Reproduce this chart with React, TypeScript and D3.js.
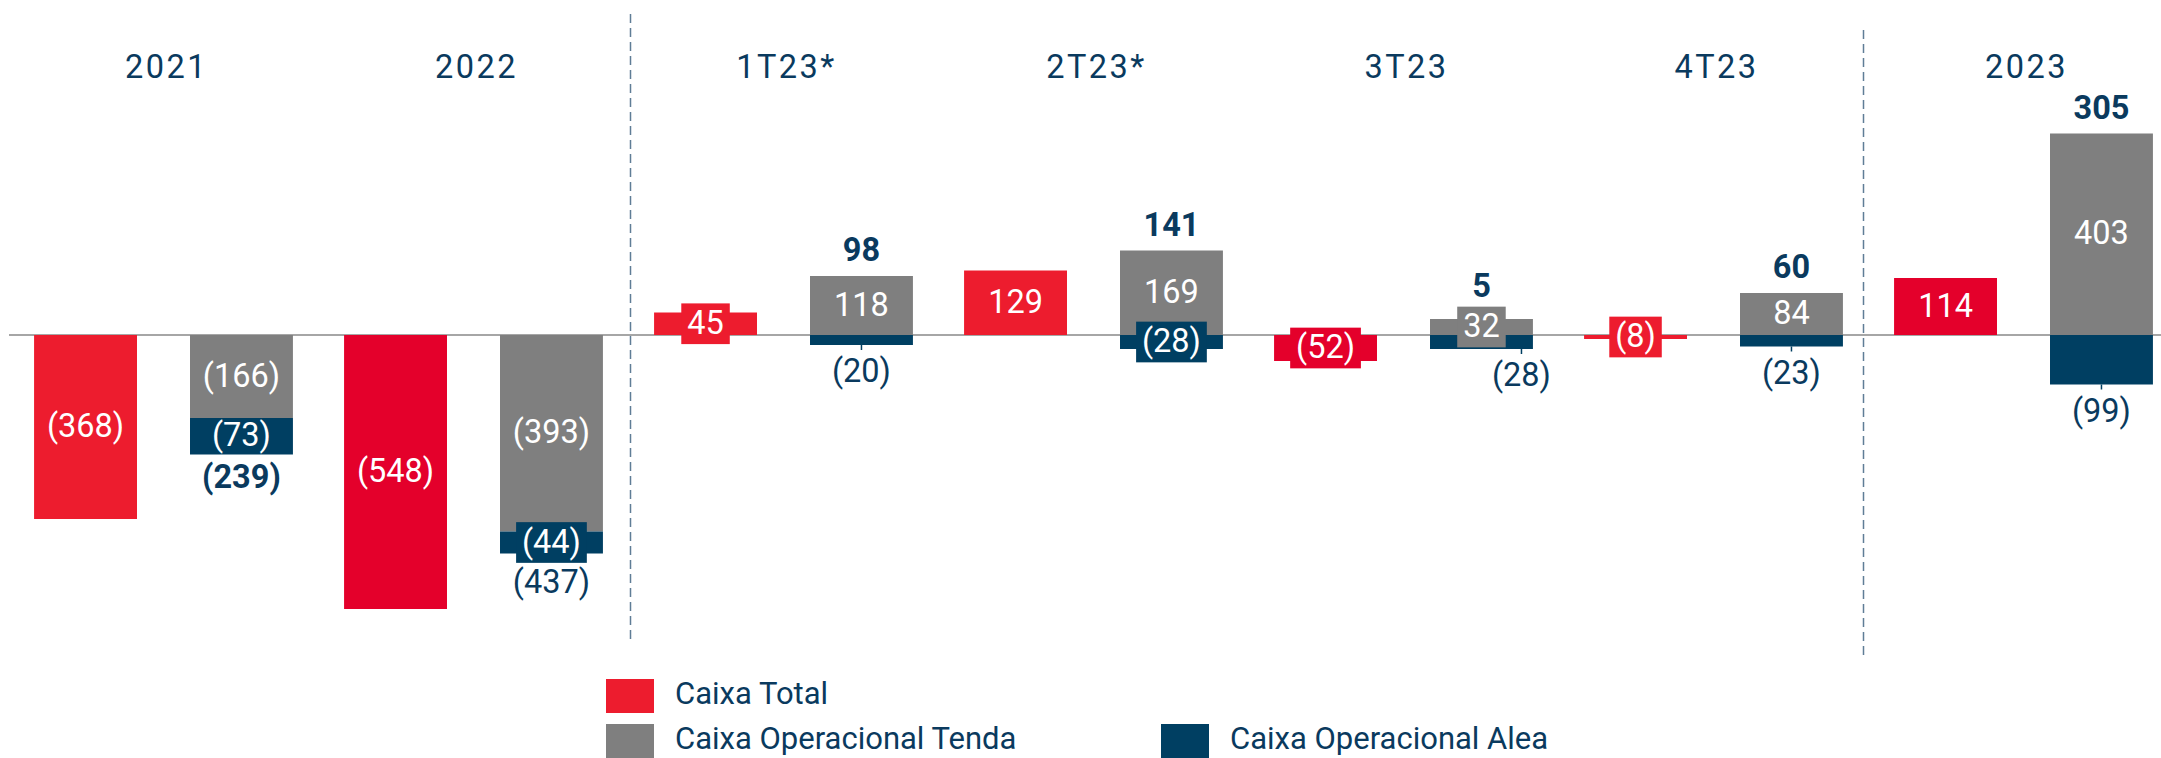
import React from "react";
import * as d3 from "d3";

// ---- data ----
const categories = ["2021", "2022", "1T23*", "2T23*", "3T23", "4T23", "2023"];
const caixaTotal = [-368, -548, 45, 129, -52, -8, 114];
const caixaTenda = [-166, -393, 118, 169, 32, 84, 403];
const caixaAlea = [-73, -44, -20, -28, -28, -23, -99];
const opTotalLabels = [-239, -437, 98, 141, 5, 60, 305];
const legendItems = ["Caixa Total", "Caixa Operacional Tenda", "Caixa Operacional Alea"];

// ---- presentation config ----
const opTotalBold = [true, false, true, true, true, true, true];
const aleaPlacement = ["inside", "inside", "below", "inside", "belowRight", "below", "below"];
const totalShade = ["#ED1C2E", "#E4002B", "#ED1C2E", "#ED1C2E", "#E4002B", "#ED1C2E", "#E4002B"];
const dividerAfter = [1, 5];
const dividerNudge = [2, -5];
const dividerSpan = [
  [14, 641],
  [30, 655],
];

const W = 2161;
const H = 758;
const GRAY = "#7F7F7F";
const NAVY = "#003F62";
const TEXT_NAVY = "#0A3A5E";
const FONT = "Roboto, 'Open Sans', sans-serif";
const FS = 32.5;
const BOX_H = 40.7;

const fmt = (v: number) => (v < 0 ? `(${-v})` : `${v}`);
const textW = (s: string, size: number) => {
  let w = 0;
  for (const c of s) w += c === "(" || c === ")" ? 0.342 : 0.5615;
  return w * size;
};

export default function App() {
  const y = d3.scaleLinear().domain([-600, 670]).range([635, 0]);
  const x0 = d3.scaleBand<string>().domain(categories).range([8.5, 2178.5]).padding(0);
  const x1 = d3
    .scaleBand<string>()
    .domain(["total", "op"])
    .range([0, x0.bandwidth()])
    .paddingInner(0.34)
    .paddingOuter(0.164);
  const bw = x1.bandwidth();

  const rows = categories.map((c, i) => ({ cat: c, tenda: caixaTenda[i], alea: caixaAlea[i] }));
  const stack = d3.stack<any>().keys(["tenda", "alea"]).offset(d3.stackOffsetDiverging)(rows);
  const tendaSeg = stack[0];
  const aleaSeg = stack[1];

  const bars: any[] = [];
  const labels: any[] = [];
  const extras: any[] = [];

  categories.forEach((c, i) => {
    const xr = (x0(c) as number) + (x1("total") as number);
    const xg = (x0(c) as number) + (x1("op") as number);
    // total bar
    const tv = caixaTotal[i];
    const ty0 = y(Math.max(0, tv));
    const ty1 = y(Math.min(0, tv));
    bars.push(<rect key={`t${i}`} x={xr} y={ty0} width={bw} height={ty1 - ty0} fill={totalShade[i]} />);
    labels.push({ x: xr + bw / 2, cy: (ty0 + ty1) / 2, h: ty1 - ty0, s: fmt(tv), fill: totalShade[i], key: `tl${i}` });

    // tenda
    const [ta, tb] = tendaSeg[i];
    const gy0 = y(Math.max(ta, tb));
    const gy1 = y(Math.min(ta, tb));
    bars.push(<rect key={`g${i}`} x={xg} y={gy0} width={bw} height={gy1 - gy0} fill={GRAY} />);
    const gcy = (gy0 + gy1) / 2;
    labels.push({ x: xg + bw / 2, cy: gcy, h: gy1 - gy0, s: fmt(caixaTenda[i]), fill: GRAY, key: `gl${i}` });

    // alea
    const [aa, ab] = aleaSeg[i];
    const ay0 = y(Math.max(aa, ab));
    const ay1 = y(Math.min(aa, ab));
    bars.push(<rect key={`a${i}`} x={xg} y={ay0} width={bw} height={ay1 - ay0} fill={NAVY} />);
    const acy = (ay0 + ay1) / 2;
    const pl = aleaPlacement[i];
    let aleaBoxBottom = ay1;
    if (pl === "inside") {
      labels.push({ x: xg + bw / 2, cy: acy, h: ay1 - ay0, s: fmt(caixaAlea[i]), fill: NAVY, key: `al${i}` });
      aleaBoxBottom = Math.max(ay1, acy + BOX_H / 2);
    } else {
      const lx = xg + bw / 2 + (pl === "belowRight" ? 40 : 0);
      extras.push(
        <line key={`at${i}`} x1={lx} x2={lx} y1={ay1} y2={ay1 + 5} stroke={NAVY} strokeWidth={1.5} />,
        <text key={`ax${i}`} x={lx} y={ay1 + 37} textAnchor="middle" fontFamily={FONT} fontSize={FS} fill={TEXT_NAVY}>
          {fmt(caixaAlea[i])}
        </text>
      );
    }

    // op total
    const ot = opTotalLabels[i];
    let by: number;
    if (ot >= 0) {
      const top = Math.min(gy0, ay0);
      const boxTop = gcy - BOX_H / 2;
      by = Math.min(top - 15, boxTop - 10);
    } else {
      const bottom = Math.max(gy1, ay1);
      by = Math.max(bottom + 33, aleaBoxBottom + 30);
    }
    extras.push(
      <text
        key={`ot${i}`}
        x={xg + bw / 2}
        y={by}
        textAnchor="middle"
        fontFamily={FONT}
        fontSize={FS}
        fontWeight={opTotalBold[i] ? 700 : 400}
        fill={TEXT_NAVY}
      >
        {fmt(ot)}
      </text>
    );
  });

  const dividers = dividerAfter.map((ci, k) => {
    const xx = (x0(categories[ci]) as number) + x0.bandwidth() + dividerNudge[k];
    return (
      <line
        key={`d${k}`}
        x1={xx}
        x2={xx}
        y1={dividerSpan[k][0]}
        y2={dividerSpan[k][1]}
        stroke="#5F7D96"
        strokeWidth={1.5}
        strokeDasharray="9,5"
      />
    );
  });

  const legendColors = ["#ED1C2E", GRAY, NAVY];
  const legendPos = [
    { x: 606, y: 679 },
    { x: 606, y: 724 },
    { x: 1161, y: 724 },
  ];

  return (
    <svg
      width={W}
      height={H}
      style={{ position: "absolute", left: 0, top: 0, background: "#fff" }}
      xmlns="http://www.w3.org/2000/svg"
    >
      <rect x={0} y={0} width={W} height={H} fill="#fff" />
      {categories.map((c) => (
        <text
          key={`h${c}`}
          x={(x0(c) as number) + x0.bandwidth() / 2 + 3}
          y={78}
          textAnchor="middle"
          fontFamily={FONT}
          fontSize={FS}
          letterSpacing={2.5}
          fill={TEXT_NAVY}
        >
          {c}
        </text>
      ))}
      {dividers}
      <line x1={9} x2={W} y1={y(0)} y2={y(0)} stroke="#A6A6A6" strokeWidth={2} />
      {bars}
      {labels.map((l) => {
        const w = textW(l.s, FS) + 12;
        const needBox = l.h < BOX_H - 5 || w > bw;
        return (
          <g key={l.key}>
            {needBox && <rect x={l.x - w / 2} y={l.cy - BOX_H / 2} width={w} height={BOX_H} fill={l.fill} />}
            <text x={l.x} y={l.cy + 10} textAnchor="middle" fontFamily={FONT} fontSize={FS} fill="#fff">
              {l.s}
            </text>
          </g>
        );
      })}
      {extras}
      {legendItems.map((t, k) => (
        <g key={`lg${k}`}>
          <rect x={legendPos[k].x} y={legendPos[k].y} width={48} height={34} fill={legendColors[k]} />
          <text
            x={legendPos[k].x + 69}
            y={legendPos[k].y + 25}
            fontFamily={FONT}
            fontSize={31}
            fill={TEXT_NAVY}
          >
            {t}
          </text>
        </g>
      ))}
    </svg>
  );
}
